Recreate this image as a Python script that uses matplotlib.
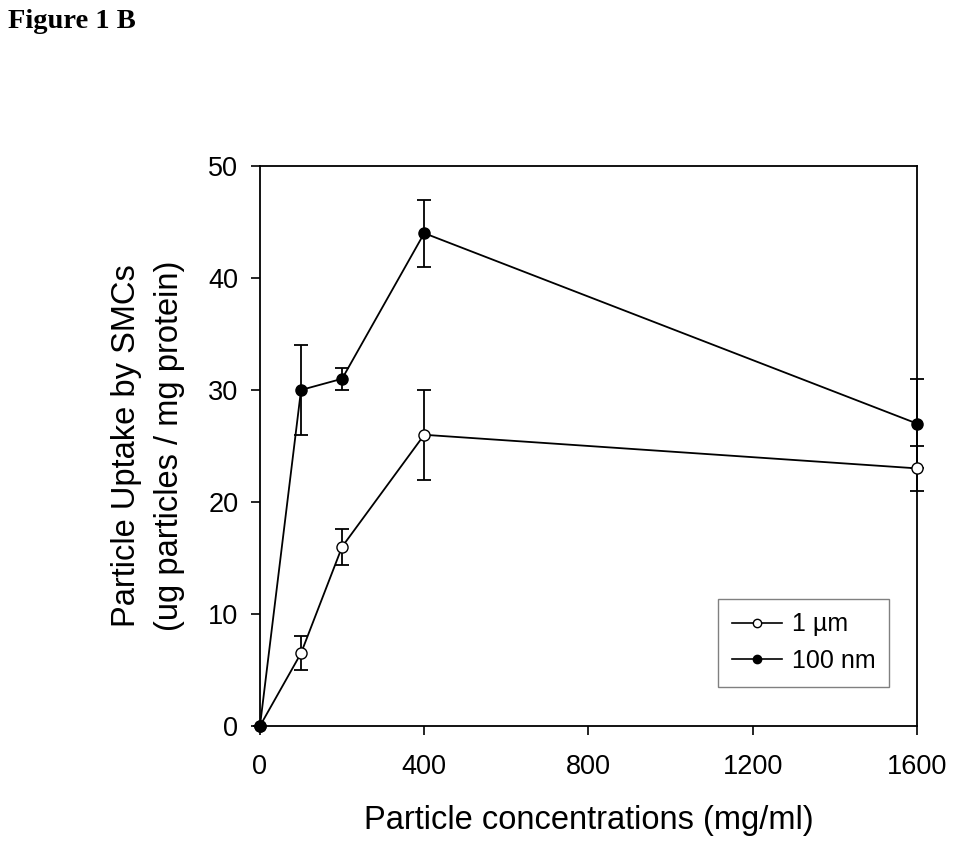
import numpy as np
import matplotlib
matplotlib.use('Agg')
import matplotlib.pyplot as plt
from matplotlib.lines import Line2D

plt.rcParams['font.family'] = ['Liberation Sans', 'DejaVu Sans']

# data
conc = [0, 100, 200, 400, 1600]
uptake_1um = [0, 6.5, 16, 26, 23]
err_1um = [0, 1.5, 1.6, 4, 2]
uptake_100nm = [0, 30, 31, 44, 27]
err_100nm = [0, 4, 1, 3, 4]

x_ticks = [0, 400, 800, 1200, 1600]
y_ticks = [0, 10, 20, 30, 40, 50]

fig = plt.figure(figsize=(9.6, 8.52), dpi=100)
ax = fig.add_axes([0.2708, 0.1479, 0.6844, 0.6573])

# open circles first so the filled marker sits on top at the origin
for y, err, face in [(uptake_1um, err_1um, 'white'),
                     (uptake_100nm, err_100nm, 'black')]:
    line, caps, bars = ax.errorbar(conc, y, yerr=err, fmt='-o', color='black',
                                   mfc=face, mec='black', ms=8, lw=1.3,
                                   elinewidth=1.3, capsize=5, capthick=1.3,
                                   zorder=3)
    line.set_clip_on(False)
    for c in caps:
        c.set_clip_on(False)
    for b in bars:
        b.set_clip_on(False)

ax.set_xlim(0, 1600)
ax.set_ylim(0, 50)
ax.set_xticks(x_ticks)
ax.set_yticks(y_ticks)
ax.tick_params(direction='out', length=6.5, width=1.2, labelsize=19.5)
ax.tick_params(axis='x', pad=14)
ax.tick_params(axis='y', pad=9)
for s in ax.spines.values():
    s.set_linewidth(1.3)
ax.set_xlabel('Particle concentrations (mg/ml)', fontsize=23.5, labelpad=18)
ax.set_ylabel('Particle Uptake by SMCs\n(ug particles / mg protein)',
              fontsize=23.5, labelpad=17, linespacing=1.5)

handles = [
    Line2D([], [], color='black', lw=1.2, marker='o', mfc='white', mec='black', ms=6),
    Line2D([], [], color='black', lw=1.2, marker='o', mfc='black', mec='black', ms=6),
]
leg = ax.legend(handles, ['1 µm', '100 nm'], loc='lower right',
                bbox_to_anchor=(0.977, 0.048), fontsize=18, fancybox=False,
                framealpha=1, edgecolor='gray', handlelength=2.0,
                borderpad=0.55, labelspacing=0.5, handletextpad=0.4)
leg.get_frame().set_linewidth(1.0)

fig.text(0.008, 0.99, 'Figure 1 B', fontsize=20.5, fontweight='bold',
         family='Liberation Serif', va='top', ha='left')

fig.savefig('out.png', dpi=100)
